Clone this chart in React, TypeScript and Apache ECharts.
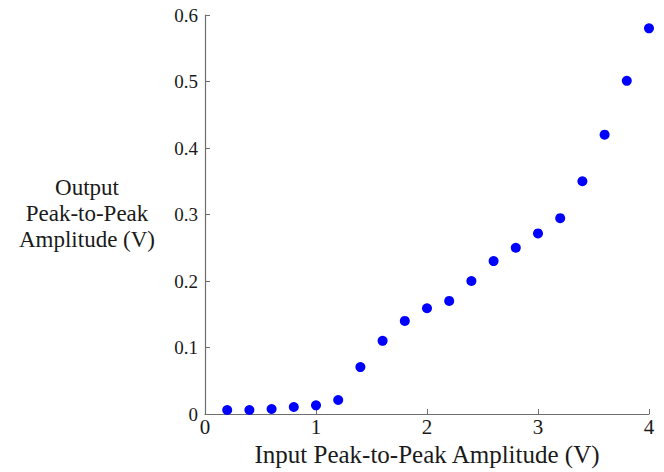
import React, { useEffect, useRef } from "react";
import * as echarts from "echarts";

const inputAmplitude = [0.2, 0.4, 0.6, 0.8, 1.0, 1.2, 1.4, 1.6, 1.8, 2.0, 2.2, 2.4, 2.6, 2.8, 3.0, 3.2, 3.4, 3.6, 3.8, 4.0];
const outputAmplitude = [0.006, 0.006, 0.0075, 0.0105, 0.013, 0.021, 0.0705, 0.11, 0.14, 0.159, 0.17, 0.2, 0.23, 0.25, 0.2715, 0.2945, 0.35, 0.42, 0.501, 0.58];

const xAxisTitle = "Input Peak-to-Peak Amplitude (V)";
const yAxisTitle = "Output\nPeak-to-Peak\nAmplitude (V)";

const FONT = "'Liberation Serif', 'Times New Roman', serif";

export default function App() {
  const ref = useRef<HTMLDivElement>(null);
  useEffect(() => {
    if (!ref.current) return;
    const chart = echarts.init(ref.current, null, { renderer: "svg" });
    const axisLine = { show: true, lineStyle: { color: "#6e6e6e", width: 1.2 } };
    chart.setOption({
      animation: false,
      backgroundColor: "#ffffff",
      grid: { left: 205, right: 15, top: 15, bottom: 57, containLabel: false },
      xAxis: {
        type: "value",
        min: 0,
        max: 4,
        interval: 1,
        name: xAxisTitle,
        nameLocation: "middle",
        nameGap: 28,
        nameTextStyle: { fontFamily: FONT, fontSize: 25, color: "#1a1a1a" },
        axisLine,
        axisTick: { show: true, inside: true, length: 5, lineStyle: { color: "#6e6e6e" } },
        axisLabel: { fontFamily: FONT, fontSize: 21, color: "#1a1a1a", margin: 2 },
        splitLine: { show: false },
      },
      yAxis: {
        type: "value",
        min: 0,
        max: 0.6,
        interval: 0.1,
        axisLine,
        axisTick: { show: true, inside: true, length: 5, lineStyle: { color: "#6e6e6e" } },
        axisLabel: { fontFamily: FONT, fontSize: 19, color: "#1a1a1a", margin: 7 },
        splitLine: { show: false },
      },
      graphic: [
        {
          type: "text",
          x: 87,
          y: 213,
          style: {
            text: yAxisTitle,
            fontFamily: FONT,
            fontSize: 23,
            lineHeight: 26,
            fill: "#1a1a1a",
            textAlign: "center",
            textVerticalAlign: "middle",
          },
        },
      ],
      series: [
        {
          type: "scatter",
          symbol: "circle",
          symbolSize: 10,
          itemStyle: { color: "#0000ff", opacity: 1 },
          data: inputAmplitude.map((x, i) => [x, outputAmplitude[i]]),
        },
      ],
    });
    return () => chart.dispose();
  }, []);
  return (
    <div
      ref={ref}
      style={{ position: "fixed", left: 0, top: 0, width: 664, height: 472, background: "#fff" }}
    />
  );
}
